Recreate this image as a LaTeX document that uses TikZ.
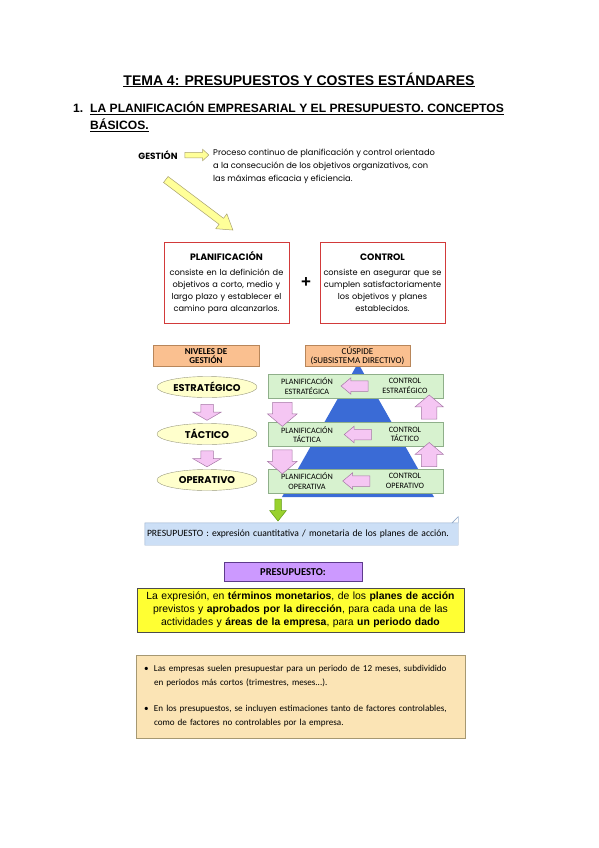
\documentclass[tikz,border=0pt]{standalone}
\usepackage{fontspec}
\setmainfont{Liberation Sans}
\newfontfamily\gothic{Poppins}
\newfontfamily\calib{Carlito}
\usepackage{xcolor}
\usepackage{tikz}
\usetikzlibrary{arrows.meta,positioning,calc,shapes.arrows,shapes.geometric}
\definecolor{redline}{HTML}{D23A3A}
\definecolor{orfill}{HTML}{FAC090}
\definecolor{orline}{HTML}{B8865A}
\definecolor{ellfill}{HTML}{FFFFCC}
\definecolor{ellline}{HTML}{9A9A80}
\definecolor{pyrblue}{HTML}{3A6BD6}
\definecolor{bandfill}{HTML}{D7F2CF}
\definecolor{bandline}{HTML}{8FAF8A}
\definecolor{pinkfill}{HTML}{F5C6F3}
\definecolor{pinkline}{HTML}{A678A6}
\definecolor{grfill}{HTML}{99D12E}
\definecolor{grline}{HTML}{5E9A10}
\definecolor{stripfill}{HTML}{CCDFF6}
\definecolor{stripline}{HTML}{8FA8C8}
\definecolor{purfill}{HTML}{CC99FF}
\definecolor{purline}{HTML}{5E3A8C}
\definecolor{yelfill}{HTML}{FFFF33}
\definecolor{beifill}{HTML}{FBE4B5}
\definecolor{beiline}{HTML}{A69872}
\definecolor{gestfill}{HTML}{FFFF99}
\definecolor{gestline}{HTML}{A8A070}

\begin{document}
\begin{tikzpicture}[x=1pt,y=-1pt,
    framebox/.style={draw=redline, line width=1pt, fill=white, text width=118pt, inner xsep=3.5pt, minimum height=81pt, align=center, font=\gothic\fontsize{8.2}{12}\selectfont},
    tagbox/.style={draw=orline, fill=orfill, minimum height=21pt, inner sep=0pt, align=center, font=\calib\fontsize{9}{9.5}\selectfont},
    levelell/.style={ellipse, draw=ellline, fill=ellfill, minimum width=100pt, minimum height=21pt, inner sep=0pt, font=\gothic\bfseries\fontsize{9.8}{10}\selectfont},
    band/.style={draw=bandline, fill=bandfill, minimum width=175pt, minimum height=24pt, inner sep=0pt},
    bandtxt/.style={align=center, inner sep=0pt, font=\calib\fontsize{8.2}{9.5}\selectfont},
    blockarrow/.style={single arrow, single arrow head indent=0pt, inner xsep=0pt, line width=.5pt},
    vertarrow/.style={blockarrow, inner ysep=0pt, inner xsep=#1},
    pinkarrow/.style={blockarrow, draw=pinkline, fill=pinkfill},
    greenarrow/.style={blockarrow, draw=grline, fill=grfill},
    gestarrow/.style={blockarrow, draw=gestline, fill=gestfill}
]
\useasboundingbox (0,0) rectangle (599,848);

\node[font=\bfseries\fontsize{14}{16}\selectfont] (title) at (299,80) {\underline{TEMA 4: PRESUPUESTOS Y COSTES ESTÁNDARES}};
\node[anchor=base west, inner sep=0pt, font=\bfseries\fontsize{12.1}{17}\selectfont] (num) at (73,113) {1.};
\node[anchor=base west, inner sep=0pt, font=\bfseries\fontsize{12.1}{17}\selectfont] (sec) at (90,113)
    {\underline{LA PLANIFICACIÓN EMPRESARIAL Y EL PRESUPUESTO. CONCEPTOS}};
\node[anchor=base west, inner sep=0pt, font=\bfseries\fontsize{12.1}{17}\selectfont] (secb) at (90,130) {\underline{BÁSICOS.}};

\node[inner sep=0pt, font=\gothic\bfseries\fontsize{9}{9}\selectfont] (gest) at (158,155) {GESTIÓN};
\node[anchor=north west, inner sep=0pt, align=left, font=\gothic\fontsize{8.3}{13}\selectfont] (proc) at (213,149)
    {Proceso continuo de planificación y control orientado\\a la consecución de los objetivos organizativos, con\\las máximas eficacia y eficiencia.};
\node[gestarrow, inner ysep=2.5pt, single arrow head extend=3pt, minimum height=24pt, single arrow tip angle=85] (garr)
    at ($(gest.east)!.5!(gest.east -| proc.west)$) {};
\node[gestarrow, rotate=-37, inner ysep=3.5pt, single arrow head extend=5.5pt, minimum height=84pt, single arrow tip angle=65] (darr) at (197,203) {};

\node[framebox] (plan) at (226.5,282.5) {{\bfseries\fontsize{9.3}{12}\selectfont PLANIFICACIÓN}\\[3pt]consiste en la definición de\\objetivos a corto, medio y\\largo plazo y establecer el\\camino para alcanzarlos.};
\node[framebox] (ctrl) at (382.5,282.5) {{\bfseries\fontsize{9.3}{12}\selectfont CONTROL}\\[3pt]consiste en asegurar que se\\cumplen satisfactoriamente\\los objetivos y planes\\establecidos.};
\node[font=\bfseries\fontsize{17}{17}\selectfont, inner sep=0pt] (plus) at (306,283) {+};

\node[tagbox, minimum width=106pt, font=\calib\bfseries\fontsize{9}{9.5}\selectfont] (niv) at (206,356) {NIVELES DE\\GESTIÓN};
\node[levelell] (est) at (207,387) {ESTRATÉGICO};
\node[levelell] (tac) at (207,434) {TÁCTICO};
\node[levelell] (ope) at (207,480) {OPERATIVO};
\node[pinkarrow, vertarrow=6pt, shape border rotate=270, single arrow head extend=8pt, minimum height=16pt, single arrow tip angle=120] at ($(est.south)!.5!(tac.north)$) {};
\node[pinkarrow, vertarrow=6pt, shape border rotate=270, single arrow head extend=8pt, minimum height=16pt, single arrow tip angle=120] at ($(tac.south)!.5!(ope.north)$) {};

\fill[pyrblue] (358,363) -- (434,497) -- (282,497) -- cycle;
\node[tagbox, minimum width=105pt] (cus) at (357.5,356) {CÚSPIDE\\(SUBSISTEMA DIRECTIVO)};

\node[band] (bs) at (355.5,386) {};
\node[band] (bt) at (355.5,434.5) {};
\node[band] (bo) at (355.5,481) {};

\node[bandtxt] (ps) at ([xshift=-48.5pt]bs.center) {PLANIFICACIÓN\\ESTRATÉGICA};
\node[bandtxt] (cs) at ([xshift=49.5pt]bs.center) {CONTROL\\ESTRATÉGICO};
\node[bandtxt] (pt) at ([xshift=-48.5pt]bt.center) {PLANIFICACIÓN\\TÁCTICA};
\node[bandtxt] (ct) at ([xshift=49.5pt]bt.center) {CONTROL\\TÁCTICO};
\node[bandtxt] (po) at ([xshift=-48.5pt]bo.center) {PLANIFICACIÓN\\OPERATIVA};
\node[bandtxt] (co) at ([xshift=49.5pt]bo.center) {CONTROL\\OPERATIVO};

\node[pinkarrow, shape border rotate=180, inner ysep=5pt, single arrow head extend=3pt, minimum height=27pt, single arrow tip angle=80] at ($(ps.east)!.5!(cs.west)$) {};
\node[pinkarrow, shape border rotate=180, inner ysep=5pt, single arrow head extend=3pt, minimum height=27pt, single arrow tip angle=80] at ($(pt.east)!.5!(ct.west)$) {};
\node[pinkarrow, shape border rotate=180, inner ysep=5pt, single arrow head extend=3pt, minimum height=27pt, single arrow tip angle=80] at ($(po.east)!.5!(co.west)$) {};

\node[pinkarrow, vertarrow=9.5pt, shape border rotate=270, single arrow head extend=5pt, minimum height=24pt, single arrow tip angle=100] at ($(bs.south west)!.5!(bt.north west)+(14.5,0)$) {};
\node[pinkarrow, vertarrow=9.5pt, shape border rotate=270, single arrow head extend=5pt, minimum height=24pt, single arrow tip angle=100] at ($(bt.south west)!.5!(bo.north west)+(14.5,0)$) {};
\node[pinkarrow, vertarrow=7.5pt, shape border rotate=90, single arrow head extend=6.5pt, minimum height=24pt, single arrow tip angle=100] at ($(bt.north east)!.5!(bs.south east)+(-14,0)$) {};
\node[pinkarrow, vertarrow=7.5pt, shape border rotate=90, single arrow head extend=6.5pt, minimum height=24pt, single arrow tip angle=100] at ($(bo.north east)!.5!(bt.south east)+(-14,0)$) {};

\node[fill=stripfill, minimum width=313pt, minimum height=22pt, text width=309pt, inner xsep=2pt, align=left, font=\calib\fontsize{9.6}{10}\selectfont] (def) at (301.5,534)
    {PRESUPUESTO : expresión cuantitativa / monetaria de los planes de acción.};
\draw[stripline] (def.north west) -- ([xshift=-6pt]def.north east) -- ([yshift=6pt]def.north east) -- (def.south east) -- (def.south west) -- cycle;
\draw[stripline, fill=white] ([xshift=-6pt]def.north east) -- ([yshift=6pt]def.north east) -- (def.north east) -- cycle;
\node[greenarrow, vertarrow=3pt, shape border rotate=270, single arrow head extend=5pt, minimum height=22pt, single arrow tip angle=77] (garrow) at ($(bo.south)!.5!(def.north)+(-50.5,0)$) {};

\node[draw=purline, fill=purfill, minimum width=138pt, minimum height=19pt, inner sep=0pt, font=\calib\bfseries\fontsize{10.5}{11}\selectfont] (pres) at (293,572) {PRESUPUESTO:};
\node[draw=black!70, fill=yelfill, minimum width=327pt, minimum height=44pt, text width=320pt, align=center, font=\fontsize{10.4}{13}\selectfont] (yel) at (300.5,610)
    {La expresión, en \textbf{términos monetarios}, de los \textbf{planes de acción}\\previstos y \textbf{aprobados por la dirección}, para cada una de las\\actividades y \textbf{áreas de la empresa}, para \textbf{un periodo dado}};

\node[draw=beiline, fill=beifill, minimum width=329pt, minimum height=83pt, text width=313pt, inner xsep=8pt, align=left, font=\calib\fontsize{9.1}{14}\selectfont] (bei) at (300.5,696.5)
    {\makebox[10pt][l]{\textbullet}Las empresas suelen presupuestar para un periodo de 12 meses, subdividido\\
     \hspace*{10pt}en periodos más cortos (trimestres, meses...).\\[12pt]
     \makebox[10pt][l]{\textbullet}En los presupuestos, se incluyen estimaciones tanto de factores controlables,\\
     \hspace*{10pt}como de factores no controlables por la empresa.};
\end{tikzpicture}
\end{document}
